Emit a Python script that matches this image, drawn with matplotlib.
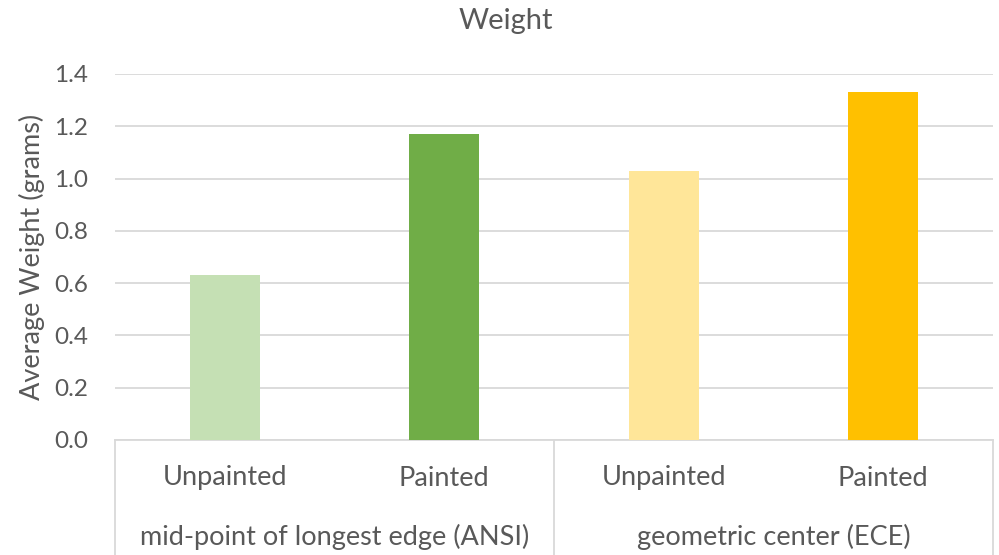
import matplotlib
matplotlib.use("Agg")
import matplotlib.pyplot as plt
from matplotlib.lines import Line2D

# Data
groups = ["mid-point of longest edge (ANSI)", "geometric center (ECE)"]
conditions = ["Unpainted", "Painted", "Unpainted", "Painted"]
weights = [0.63, 1.17, 1.03, 1.33]
bar_colors = ["#C5E0B4", "#70AD47", "#FFE699", "#FFC000"]
y_ticks = [0.0, 0.2, 0.4, 0.6, 0.8, 1.0, 1.2, 1.4]

W, H = 999, 555
fig = plt.figure(figsize=(W / 100, H / 100), dpi=100)
plt.rcParams["font.family"] = ["Lato", "DejaVu Sans"]
text_color = "#595959"
grid_color = "#D9D9D9"

left, right, top, bottom = 115, 993, 74, 440
ax = fig.add_axes([left / W, 1 - bottom / H, (right - left) / W, (bottom - top) / H])

x = list(range(len(weights)))
ax.bar(x, weights, width=0.32, color=bar_colors, zorder=3)
ax.set_xlim(-0.5, len(weights) - 0.5)
ax.set_ylim(0, 1.4)
ax.set_yticks(y_ticks)
ax.set_yticklabels([f"{v:.1f}" for v in y_ticks], fontsize=17.5, color=text_color)
ax.tick_params(axis="y", length=0, pad=19.5)
ax.set_xticks([])
ax.grid(axis="y", color=grid_color, linewidth=1.3, zorder=0)
for s in ["top", "right", "left"]:
    ax.spines[s].set_visible(False)
ax.spines["bottom"].set_color(grid_color)
ax.spines["bottom"].set_linewidth(1.3)

ax.set_ylabel("Average Weight (grams)", fontsize=19.5, color=text_color)
ax.yaxis.set_label_coords(-(left - 45) / (right - left), 0.5)
fig.text(506 / W, 1 - 21 / H, "Weight", fontsize=21, color=text_color,
         ha="center", va="center")

# Two-level category axis
xt = ax.get_xaxis_transform()
depth = (H - bottom) / (bottom - top)
for xv in [-0.5, 1.5, 3.5]:
    ax.add_line(Line2D([xv, xv], [0, -depth], transform=xt, color=grid_color,
                       linewidth=1.3, clip_on=False))
inner_y = -(478 - bottom) / (bottom - top)
outer_y = -(537 - bottom) / (bottom - top)
for xi, lab in zip(x, conditions):
    ax.text(xi, inner_y, lab, transform=xt, ha="center", va="center",
            fontsize=19.5, color=text_color)
for gi, g in enumerate(groups):
    ax.text(2 * gi + 0.5, outer_y, g, transform=xt, ha="center", va="center",
            fontsize=19.5, color=text_color)

fig.savefig("out.png", dpi=100, facecolor="white")
